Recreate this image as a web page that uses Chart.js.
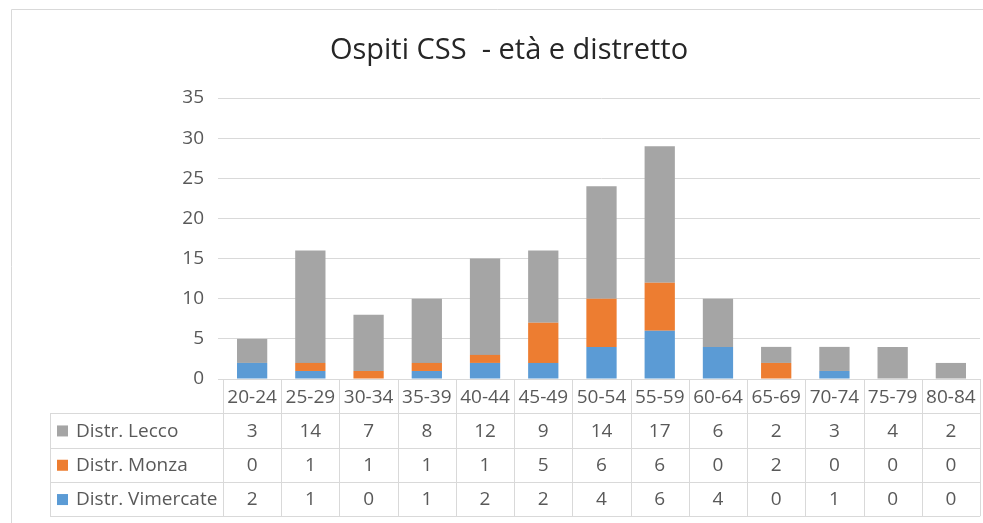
<!DOCTYPE html>
<html>
<head>
<meta charset="utf-8">
<script src="https://cdn.jsdelivr.net/npm/chart.js@4.4.0/dist/chart.umd.min.js"></script>
<style>
  body { margin: 0; background: #fff; }
  canvas { display: block; }
</style>
</head>
<body>
<canvas id="myChart" width="983" height="523"></canvas>
<script>
const ageGroups = ['20-24', '25-29', '30-34', '35-39', '40-44', '45-49', '50-54', '55-59', '60-64', '65-69', '70-74', '75-79', '80-84'];
const lecco = [3, 14, 7, 8, 12, 9, 14, 17, 6, 2, 3, 4, 2];
const monza = [0, 1, 1, 1, 1, 5, 6, 6, 0, 2, 0, 0, 0];
const vimercate = [2, 1, 0, 1, 2, 2, 4, 6, 4, 0, 1, 0, 0];
const yTicks = [0, 5, 10, 15, 20, 25, 30, 35];
const chartTitle = 'Ospiti CSS  - età e distretto';

const FONT = "'Open Sans', sans-serif";
const textCol = '#595959';
const lineCol = '#d9d9d9';

// rows of the data table, top to bottom
const tableRows = [
    { name: 'Distr. Lecco', data: lecco, color: '#a5a5a5' },
    { name: 'Distr. Monza', data: monza, color: '#ed7d31' },
    { name: 'Distr. Vimercate', data: vimercate, color: '#5b9bd5' }
];

const tablePlugin = {
    id: 'dataTable',
    beforeDraw(chart) {
        const c = chart.ctx;
        c.save();
        c.strokeStyle = lineCol;
        c.lineWidth = 1;
        c.beginPath();
        c.moveTo(11.5, 523);
        c.lineTo(11.5, 9.5);
        c.lineTo(983, 9.5);
        c.stroke();
        // title (Excel centres it a bit right of the canvas middle)
        c.fillStyle = '#262626';
        c.font = '29px ' + FONT;
        c.textAlign = 'center';
        c.textBaseline = 'middle';
        c.fillText(chartTitle, 509, 51);
        c.restore();
    },
    afterDraw(chart) {
        const c = chart.ctx;
        const x = chart.scales.x;
        const area = chart.chartArea;
        const colW = (area.right - area.left) / ageGroups.length;
        const top = area.bottom;
        const rowH = 34.3;
        const left = 50;
        const bottom = top + rowH * 4;
        c.save();
        c.strokeStyle = lineCol;
        c.lineWidth = 1;
        c.beginPath();
        c.moveTo(area.left, top + 0.5);
        c.lineTo(area.right, top + 0.5);
        for (let r = 1; r <= 4; r++) {
            const y = Math.round(top + rowH * r) + 0.5;
            c.moveTo(left, y);
            c.lineTo(area.right, y);
        }
        c.moveTo(left + 0.5, top + rowH);
        c.lineTo(left + 0.5, bottom);
        for (let i = 0; i <= ageGroups.length; i++) {
            const xx = Math.round(area.left + colW * i) + 0.5;
            c.moveTo(xx, top);
            c.lineTo(xx, bottom);
        }
        c.stroke();

        c.fillStyle = textCol;
        c.font = '19px ' + FONT;
        c.textAlign = 'center';
        c.textBaseline = 'middle';
        ageGroups.forEach((g, i) => {
            c.fillText(g, x.getPixelForValue(i), top + rowH / 2 + 1);
        });
        tableRows.forEach((row, r) => {
            const cy = top + rowH * (r + 1.5) + 1;
            row.data.forEach((v, i) => {
                c.fillStyle = textCol;
                c.textAlign = 'center';
                c.fillText(String(v), x.getPixelForValue(i), cy);
            });
            c.fillStyle = row.color;
            c.fillRect(57, cy - 6, 11, 11);
            c.fillStyle = textCol;
            c.textAlign = 'left';
            c.fillText(row.name, 76, cy);
        });
        c.restore();
    }
};

const ctx = document.getElementById('myChart').getContext('2d');

new Chart(ctx, {
    type: 'bar',
    data: {
        labels: ageGroups,
        datasets: [
            { label: 'Distr. Vimercate', data: vimercate, backgroundColor: '#5b9bd5' },
            { label: 'Distr. Monza', data: monza, backgroundColor: '#ed7d31' },
            { label: 'Distr. Lecco', data: lecco, backgroundColor: '#a5a5a5' }
        ]
    },
    options: {
        responsive: false,
        animation: false,
        categoryPercentage: 1,
        barPercentage: 0.52,
        layout: { padding: { left: 0, right: 3, top: 98, bottom: 0 } },
        plugins: {
            legend: { display: false },
            tooltip: { enabled: false },
            title: { display: false }
        },
        scales: {
            x: {
                stacked: true,
                grid: { display: false },
                border: { display: false },
                ticks: { display: false },
                afterFit(scale) { scale.height = 144; }
            },
            y: {
                stacked: true,
                min: 0,
                max: 35,
                afterBuildTicks(scale) { scale.ticks = yTicks.map(v => ({ value: v })); },
                grid: { color: lineCol, tickLength: 5, drawTicks: true },
                border: { display: false },
                ticks: { color: textCol, padding: 14, font: { family: FONT, size: 19 } },
                afterFit(scale) { scale.width = 223; }
            }
        }
    },
    plugins: [tablePlugin]
});
</script>
</body>
</html>
